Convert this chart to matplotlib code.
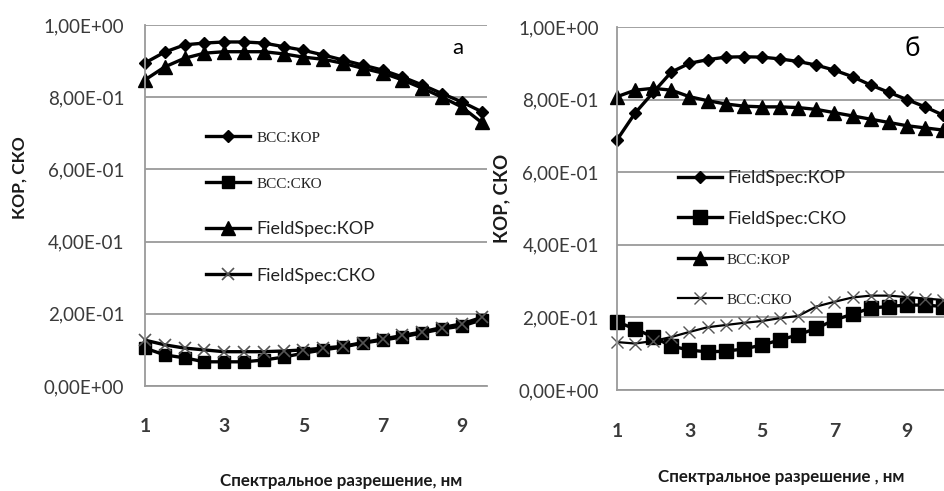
import matplotlib
matplotlib.use("Agg")
import matplotlib.pyplot as plt

plt.rcParams['font.family'] = ['Lato', 'DejaVu Sans']

# spectral resolution, nm
x_a = [1, 1.5, 2, 2.5, 3, 3.5, 4, 4.5, 5, 5.5, 6, 6.5, 7, 7.5, 8, 8.5, 9, 9.5]
x_b = [1, 1.5, 2, 2.5, 3, 3.5, 4, 4.5, 5, 5.5, 6, 6.5, 7, 7.5, 8, 8.5, 9, 9.5, 10]

# panel a
bcc_kor_a = [0.895, 0.925, 0.945, 0.950, 0.953, 0.953, 0.950, 0.940, 0.930, 0.917,
             0.903, 0.889, 0.875, 0.856, 0.834, 0.810, 0.787, 0.760]
bcc_sko_a = [0.105, 0.086, 0.078, 0.067, 0.067, 0.067, 0.072, 0.080, 0.091, 0.100,
             0.108, 0.119, 0.127, 0.136, 0.147, 0.158, 0.166, 0.183]
fs_kor_a = [0.848, 0.884, 0.908, 0.922, 0.926, 0.926, 0.926, 0.920, 0.911, 0.905,
            0.894, 0.880, 0.867, 0.848, 0.825, 0.800, 0.773, 0.730]
fs_sko_a = [0.127, 0.114, 0.105, 0.100, 0.095, 0.095, 0.095, 0.097, 0.100, 0.105,
            0.110, 0.120, 0.130, 0.140, 0.150, 0.162, 0.172, 0.190]

# panel b
fs_kor_b = [0.689, 0.763, 0.820, 0.876, 0.900, 0.910, 0.917, 0.918, 0.917, 0.912,
            0.905, 0.895, 0.881, 0.863, 0.840, 0.820, 0.800, 0.780, 0.757]
fs_sko_b = [0.188, 0.168, 0.146, 0.121, 0.110, 0.105, 0.107, 0.113, 0.124, 0.138,
            0.152, 0.170, 0.193, 0.209, 0.226, 0.230, 0.234, 0.234, 0.230]
bcc_kor_b = [0.808, 0.826, 0.831, 0.826, 0.808, 0.797, 0.788, 0.782, 0.780, 0.780,
             0.778, 0.773, 0.764, 0.755, 0.746, 0.737, 0.728, 0.722, 0.716]
bcc_sko_b = [0.132, 0.128, 0.135, 0.146, 0.160, 0.173, 0.179, 0.185, 0.190, 0.198,
             0.204, 0.230, 0.243, 0.255, 0.260, 0.260, 0.256, 0.252, 0.248]

y_ticks = [0, 0.2, 0.4, 0.6, 0.8, 1.0]
y_labels = ['0,00E+00', '2,00E-01', '4,00E-01', '6,00E-01', '8,00E-01', '1,00E+00']
x_ticks = [1, 3, 5, 7, 9]

W, H = 945, 491
fig = plt.figure(figsize=(W / 100, H / 100), dpi=100)

ax_a = fig.add_axes([145 / W, 1 - 386 / H, (487 - 145) / W, (386 - 25) / H])
ax_b = fig.add_axes([617 / W, 1 - 390 / H, (945 - 617) / W, (390 - 27) / H])

grey = '#9a9a9a'
tick_col = '#3a3a3a'


def style_axis(ax, xmax, xpad, ypad):
    ax.set_xlim(1, xmax)
    ax.set_ylim(0, 1)
    ax.set_yticks(y_ticks)
    ax.set_yticklabels(y_labels)
    ax.set_xticks(x_ticks)
    ax.grid(axis='y', color=grey, lw=1.3)
    ax.set_axisbelow(True)
    for s in ['top', 'right']:
        ax.spines[s].set_visible(False)
    for s in ['left', 'bottom']:
        ax.spines[s].set_color(grey)
        ax.spines[s].set_linewidth(1.3)
    ax.tick_params(axis='both', length=0, labelcolor=tick_col)
    ax.tick_params(axis='y', pad=ypad, labelsize=13.5)
    ax.tick_params(axis='x', pad=xpad, labelsize=14)
    for t in ax.get_xticklabels():
        t.set_fontweight('bold')
    ax.patch.set_alpha(0)


style_axis(ax_a, 1 + (487 - 145) / 39.6, 23, 15)
style_axis(ax_b, 1 + (945 - 617) / 36.25, 24, 13)

lw = 2.4
h1, = ax_a.plot(x_a, bcc_kor_a, color='black', lw=lw, marker='D', ms=6.5, clip_on=False)
h2, = ax_a.plot(x_a, bcc_sko_a, color='black', lw=lw, marker='s', ms=8.5, clip_on=False)
h3, = ax_a.plot(x_a, fs_kor_a, color='black', lw=lw, marker='^', ms=9.5, clip_on=False)
h4, = ax_a.plot(x_a, fs_sko_a, color='black', lw=lw, marker='x', ms=8, mew=1.2,
                mec='#555555', clip_on=False)

g1, = ax_b.plot(x_b, fs_kor_b, color='black', lw=lw, marker='D', ms=6.5, clip_on=False)
g2, = ax_b.plot(x_b, fs_sko_b, color='black', lw=lw, marker='s', ms=9.5, clip_on=False)
g3, = ax_b.plot(x_b, bcc_kor_b, color='black', lw=lw, marker='^', ms=9.5, clip_on=False)
g4, = ax_b.plot(x_b, bcc_sko_b, color='black', lw=1.6, marker='x', ms=9, mew=1.0,
                mec='#555555', clip_on=False)

leg_a = ax_a.legend([h1, h2, h3, h4], ['ВСС:КОР', 'ВСС:СКО', 'FieldSpec:КОР', 'FieldSpec:СКО'],
                    loc='upper left', bbox_to_anchor=(190 / W, 1 - 113 / H),
                    bbox_transform=fig.transFigure, frameon=False, fontsize=13,
                    handlelength=2.4, handletextpad=0.4, labelspacing=1.68)
leg_b = ax_b.legend([g1, g2, g3, g4], ['FieldSpec:КОР', 'FieldSpec:СКО', 'ВСС:КОР', 'ВСС:СКО'],
                    loc='upper left', bbox_to_anchor=(662 / W, 1 - 154 / H),
                    bbox_transform=fig.transFigure, frameon=False, fontsize=13,
                    handlelength=2.4, handletextpad=0.3, labelspacing=1.36)
for leg, serif_idx in ((leg_a, [0, 1]), (leg_b, [2, 3])):
    for i, t in enumerate(leg.get_texts()):
        t.set_color('#222222')
        if i in serif_idx:
            t.set_fontfamily('Liberation Serif')
            t.set_fontsize(11)

fig.text(458 / W, 1 - 48 / H, 'а', fontsize=16, ha='center', va='center')
fig.text(912 / W, 1 - 48 / H, 'б', fontsize=19, ha='center', va='center')

fig.text(20 / W, 1 - 178 / H, 'КОР, СКО', rotation=90, ha='center', va='center',
         fontsize=12.5, fontweight='bold', color='#1a1a1a')
fig.text(502 / W, 1 - 198 / H, 'КОР, СКО', rotation=90, ha='center', va='center',
         fontsize=13.5, fontweight='bold', color='#1a1a1a')
fig.text(341 / W, 1 - 481 / H, 'Спектральное разрешение, нм', ha='center', va='center',
         fontsize=12.2, fontweight='bold', color='#1a1a1a')
fig.text(781 / W, 1 - 477 / H, 'Спектральное разрешение , нм', ha='center', va='center',
         fontsize=12.2, fontweight='bold', color='#1a1a1a')

fig.savefig('out.png', dpi=100)
